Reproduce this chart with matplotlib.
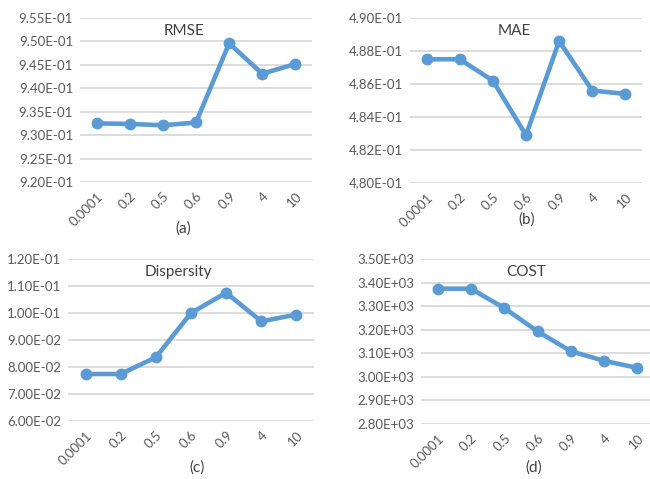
import matplotlib
matplotlib.use("Agg")
import matplotlib.pyplot as plt
from matplotlib.ticker import FuncFormatter, MultipleLocator
import numpy as np

plt.rcParams['font.family'] = ['Lato', 'DejaVu Sans']

# x 轴类别
categories = ["0.0001", "0.2", "0.5", "0.6", "0.9", "4", "10"]

# 四个指标的取值
rmse = [0.9325, 0.9324, 0.9321, 0.9327, 0.9496, 0.9431, 0.9452]
mae = [0.4875, 0.4875, 0.4862, 0.4829, 0.4886, 0.4856, 0.4854]
dispersity = [0.0774, 0.0774, 0.0836, 0.1000, 0.1075, 0.0969, 0.0994]
cost = [3374, 3374, 3292, 3193, 3109, 3068, 3038]

titles = ["RMSE", "MAE", "Dispersity", "COST"]
sub_labels = ["(a)", "(b)", "(c)", "(d)"]
ylims = [(0.920, 0.955), (0.480, 0.490), (0.060, 0.120), (2800, 3500)]
ysteps = [0.005, 0.002, 0.01, 100]

W, H = 650, 479
# 每个子图的像素位置 (left, top, right, bottom)
boxes = [(80, 18, 312, 182), (410, 18, 642, 183),
         (68, 259, 314, 421), (421, 259, 654, 424)]
label_pos = [(183, 229), (527, 220), (197, 468), (534, 468)]

blue = "#5B9BD5"
grid_c = "#D9D9D9"
text_c = "#595959"

fig = plt.figure(figsize=(6.5, 4.79), dpi=100)

for i, vals in enumerate([rmse, mae, dispersity, cost]):
    l, t, r, b = boxes[i]
    ax = fig.add_axes([l / W, 1 - b / H, (r - l) / W, (b - t) / H])
    x = np.arange(len(categories))
    ax.plot(x, vals, color=blue, lw=3.3, marker="o", ms=7.5, clip_on=False, zorder=3)
    ax.set_xlim(-0.5, len(categories) - 0.5)
    ax.set_ylim(*ylims[i])
    ax.yaxis.set_major_locator(MultipleLocator(ysteps[i]))
    ax.yaxis.set_major_formatter(FuncFormatter(lambda v, p: f"{v:.2E}"))
    ax.grid(axis="y", color=grid_c, lw=1.3)
    ax.set_axisbelow(True)
    for s in ax.spines.values():
        s.set_visible(False)
    ax.tick_params(length=0, labelsize=9.5, colors=text_c, pad=5)
    ax.set_xticks(x)
    ax.set_xticklabels(categories, rotation=45, ha="right", rotation_mode="anchor")
    ax.tick_params(axis="x", pad=6)
    ax.text(0.45, 0.92, titles[i], transform=ax.transAxes, ha="center", va="center",
            fontsize=11, color="#404040")
    fig.text(label_pos[i][0] / W, 1 - label_pos[i][1] / H, sub_labels[i],
             ha="center", va="center", fontsize=11, color="#404040")

fig.savefig("out.png", dpi=100, facecolor="white")
